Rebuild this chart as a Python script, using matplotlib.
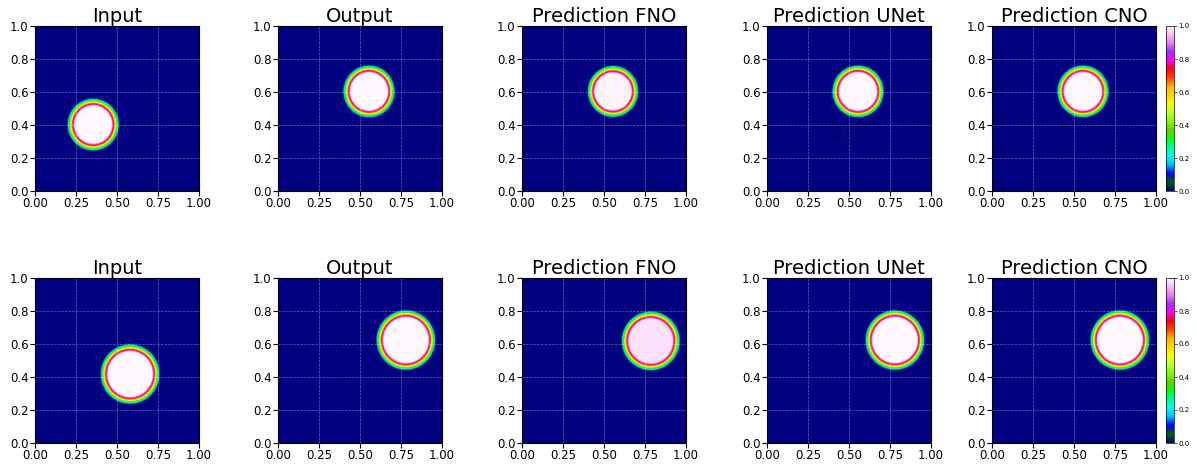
import numpy as np
import matplotlib
matplotlib.use("Agg")
from matplotlib import pyplot as plt

# grid of the advection problem
N = 256
titles = ["Input", "Output", "Prediction FNO", "Prediction UNet", "Prediction CNO"]

# bump centre (x, y) and radius for each panel, row by row
centres = [
    [(0.355, 0.40), (0.555, 0.60), (0.555, 0.60), (0.555, 0.60), (0.555, 0.60)],
    [(0.58, 0.415), (0.78, 0.62), (0.785, 0.615), (0.78, 0.62), (0.78, 0.62)],
]
radii = [
    [0.137, 0.137, 0.135, 0.137, 0.137],
    [0.16, 0.16, 0.158, 0.16, 0.16],
]
peaks = [
    [1.0, 1.0, 0.995, 1.0, 1.0],
    [1.0, 1.0, 0.98, 1.0, 1.0],
]
ramp = 0.05

# faint background blobs left by the UNet: (x, y, sx, sy, amplitude)
unet_blobs = [
    [(0.40, 0.30, 0.06, 0.015, 0.006), (0.47, 0.36, 0.02, 0.05, 0.006)],
    [(0.40, 0.30, 0.08, 0.08, 0.003), (0.30, 0.15, 0.05, 0.03, 0.003)],
]

xs = (np.arange(N) + 0.5) / N
X, Y = np.meshgrid(xs, xs)


def bump(c, r0, peak):
    r = np.hypot(X - c[0], Y - c[1])
    s = np.clip((r0 + ramp / 2 - r) / ramp, 0, 1)
    return peak * s


def blobs(lst):
    out = np.zeros_like(X)
    for bx, by, sx, sy, a in lst:
        out += a * np.exp(-((X - bx) ** 2 / (2 * sx ** 2) + (Y - by) ** 2 / (2 * sy ** 2)))
    return out


W, H = 1197, 465
fig = plt.figure(figsize=(W / 100, H / 100), dpi=100)

lefts = [35, 278, 522, 767, 992]
width = 164
tops = [26, 278]
hgt = 165

for i in range(2):
    for j in range(5):
        ax = fig.add_axes([lefts[j] / W, 1 - (tops[i] + hgt) / H, width / W, hgt / H])
        u = bump(centres[i][j], radii[i][j], peaks[i][j])
        if j == 3:
            u = u + blobs(unet_blobs[i])
        im = ax.imshow(u, origin="lower", extent=[0, 1, 0, 1], aspect="auto",
                       cmap="gist_ncar", vmin=0, vmax=1, interpolation="bilinear")
        ax.set_title(titles[j], fontsize=14, pad=3)
        ax.set_xticks([0, 0.25, 0.5, 0.75, 1.0])
        ax.set_yticks([0, 0.2, 0.4, 0.6, 0.8, 1.0])
        ax.set_xticklabels(["0.00", "0.25", "0.50", "0.75", "1.00"])
        ax.set_yticklabels(["0.0", "0.2", "0.4", "0.6", "0.8", "1.0"])
        ax.tick_params(labelsize=8.5, pad=1)
        ax.grid(True, color="white", linestyle="--", linewidth=0.5, alpha=0.4)
        if j == 4:
            cax = fig.add_axes([1166 / W, 1 - (tops[i] + hgt) / H, 8 / W, hgt / H])
            cb = fig.colorbar(im, cax=cax)
            cb.set_ticks([0, 0.2, 0.4, 0.6, 0.8, 1.0])
            cb.ax.tick_params(labelsize=5, length=2, pad=1, width=0.5)
            cb.outline.set_linewidth(0.5)

fig.savefig("out.png", dpi=100)
